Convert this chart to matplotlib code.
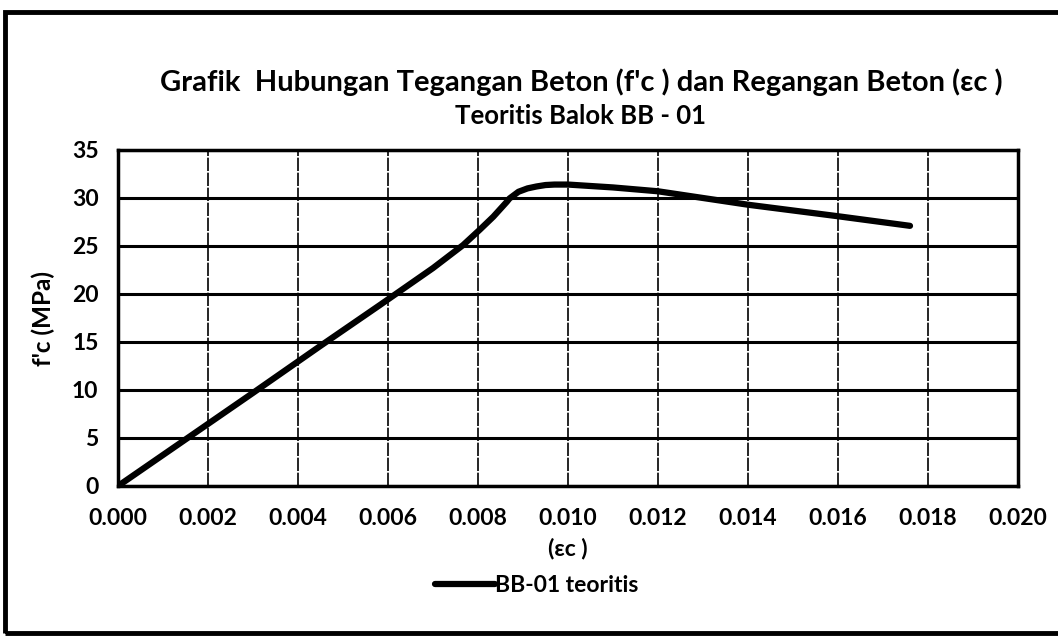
import numpy as np
import matplotlib.pyplot as plt
from matplotlib.patches import Rectangle

plt.rcParams['font.family'] = ['Lato', 'DejaVu Sans']
plt.rcParams['font.weight'] = 'bold'

# strain (ec) and stress (f'c, MPa)
strain = [0.0, 0.0015, 0.0030, 0.0045, 0.00582, 0.0070, 0.00767, 0.00804,
          0.00834, 0.00864, 0.0087, 0.0089, 0.0091, 0.0093, 0.0095, 0.0097,
          0.0100, 0.0110, 0.0120, 0.0130, 0.0140, 0.0150, 0.0160, 0.0176]
stress = [0.0, 4.85, 9.7, 14.6, 18.85, 22.7, 25.1, 26.7,
          28.05, 29.6, 29.95, 30.65, 31.0, 31.2, 31.35, 31.4,
          31.4, 31.1, 30.7, 30.0, 29.3, 28.7, 28.1, 27.1]

x_ticks = [0.000, 0.002, 0.004, 0.006, 0.008, 0.010, 0.012, 0.014, 0.016, 0.018, 0.020]
y_ticks = [0, 5, 10, 15, 20, 25, 30, 35]

fig = plt.figure(figsize=(10.58, 6.38), dpi=100)
ax = fig.add_axes([118/1058, 1 - 486/638, 900/1058, 336/638])

ax.plot(strain, stress, color='black', linewidth=4.5, solid_capstyle='round',
        solid_joinstyle='round', label='BB-01 teoritis')

ax.set_xlim(0, 0.020)
ax.set_ylim(0, 35)
ax.set_xticks(x_ticks)
ax.set_xticklabels([f'{v:.3f}' for v in x_ticks])
ax.set_yticks(y_ticks)
ax.tick_params(length=0, labelsize=16.5)
ax.tick_params(axis='x', pad=16)
ax.tick_params(axis='y', pad=14)

for y in y_ticks:
    ax.axhline(y, color='black', linewidth=2.2, zorder=1)
for x in x_ticks:
    ax.axvline(x, color='black', linewidth=1.2, linestyle=(0, (8, 1)), zorder=1)
for s in ax.spines.values():
    s.set_linewidth(2.5)

ax.set_xlabel('(εc )', fontsize=16.5, fontweight='bold', labelpad=6)
ax.set_ylabel("f'c (MPa)", fontsize=17.5, fontweight='bold', labelpad=12)

fig.text(0.549, 1 - 82/638, "Grafik  Hubungan Tegangan Beton (f'c ) dan Regangan Beton (εc )",
         ha='center', va='center', fontsize=21, fontweight='bold')
fig.text(0.549, 1 - 116/638, 'Teoritis Balok BB - 01',
         ha='center', va='center', fontsize=18.5, fontweight='bold')

leg = ax.legend(loc='center', bbox_to_anchor=(0.465, -0.295), frameon=False,
                fontsize=16.5, handlelength=2.6, handletextpad=0.0)

fig.patches.append(Rectangle((5/1058, 1 - 633/638), 1.2, 621/638,
                             transform=fig.transFigure, fill=False,
                             edgecolor='black', linewidth=3.5))

fig.savefig('out.png', dpi=100, facecolor='white')
